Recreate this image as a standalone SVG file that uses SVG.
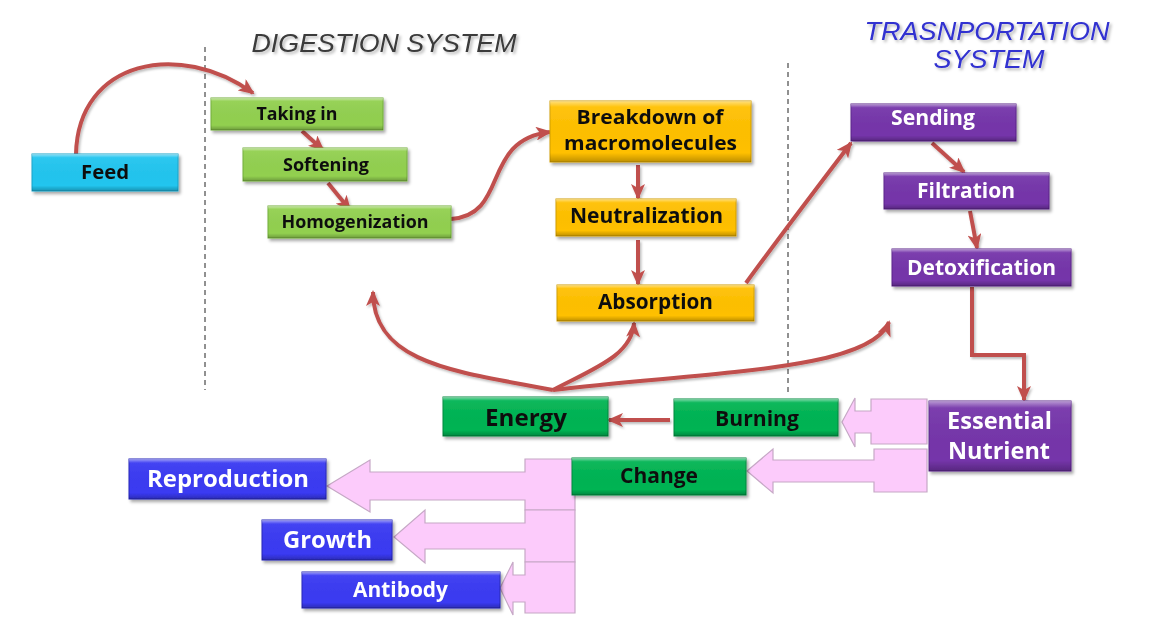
<svg xmlns="http://www.w3.org/2000/svg" width="1149" height="630" viewBox="0 0 1149 630">
<defs>
<style>
.t{font-family:"Open Sans","Noto Sans","DejaVu Sans",sans-serif;font-weight:bold;text-anchor:middle}
.k{fill:#111}
.w{fill:#fff}
.title{font-family:"Liberation Sans",Arial,sans-serif;font-style:italic;text-anchor:middle}
.box{stroke-width:1}
.cyan{fill:#22c5ef;stroke:#1aa3c9}
.lg{fill:#92d050;stroke:#72ad3a}
.yl{fill:#ffc000;stroke:#d19e00}
.pu{fill:#7535aa;stroke:#5b2489}
.dg{fill:#00b453;stroke:#00893f}
.bl{fill:#3a3af2;stroke:#2626b8}
.bev{fill:url(#bevel);stroke:none}
.con{fill:none;stroke:#c0504d;stroke-width:4;marker-end:url(#ah)}
.pink{fill:#fccbfb;stroke:#c6a8c6;stroke-width:1.2}
.dash{stroke:#222;stroke-width:1;stroke-dasharray:5,4}
</style>
<linearGradient id="bevel" x1="0" y1="0" x2="0" y2="1">
<stop offset="0" stop-color="#fff" stop-opacity="0.5"/>
<stop offset="0.1" stop-color="#fff" stop-opacity="0.05"/>
<stop offset="0.85" stop-color="#000" stop-opacity="0"/>
<stop offset="1" stop-color="#000" stop-opacity="0.25"/>
</linearGradient>
<filter id="sh" x="-10%" y="-20%" width="130%" height="150%">
<feDropShadow dx="2" dy="2.5" stdDeviation="1.5" flood-color="#000" flood-opacity="0.35"/>
</filter>
<filter id="tsh" x="-10%" y="-30%" width="130%" height="170%">
<feDropShadow dx="2" dy="2" stdDeviation="1.5" flood-color="#000" flood-opacity="0.3"/>
</filter>
<filter id="csh" x="-10%" y="-10%" width="130%" height="130%">
<feDropShadow dx="1.5" dy="2" stdDeviation="1" flood-color="#000" flood-opacity="0.25"/>
</filter>
<marker id="ah" markerUnits="userSpaceOnUse" markerWidth="16" markerHeight="14" viewBox="0 0 16 14" refX="14" refY="7" orient="auto">
<path d="M0,0 L16,7 L0,14 L4,7 Z" fill="#c0504d"/>
</marker>
</defs>
<rect width="1149" height="630" fill="#fff"/>

<g id="titles">
<text class="title" x="384" y="52" font-size="26" fill="#3a3a3a" filter="url(#tsh)" textLength="265" lengthAdjust="spacingAndGlyphs">DIGESTION SYSTEM</text>
<text class="title" x="987" y="40" font-size="26.5" fill="#3030d0" filter="url(#tsh)" textLength="245" lengthAdjust="spacingAndGlyphs">TRASNPORTATION</text>
<text class="title" x="989" y="68" font-size="26.5" fill="#3030d0" filter="url(#tsh)" textLength="111" lengthAdjust="spacingAndGlyphs">SYSTEM</text>
</g>

<g id="dividers">
<line class="dash" x1="205" y1="47" x2="205" y2="390"/>
<line class="dash" x1="788" y1="63" x2="788" y2="393"/>
</g>

<g id="pink-arrows">
<path class="pink" d="M842,422 L855,398 L855,411 L871,411 L871,399 L927,399 L927,444 L871,444 L871,433 L855,433 L855,447 Z"/>
<path class="pink" d="M747,471 L773,449 L773,460 L874,460 L874,449 L927,449 L927,492 L874,492 L874,482 L773,482 L773,493 Z"/>
<path class="pink" d="M327,486 L370,460 L370,472 L525,472 L525,459 L575,459 L575,510 L525,510 L525,500 L370,500 L370,512 Z"/>
<path class="pink" d="M394,537 L425,510 L425,523 L525,523 L525,510 L575,510 L575,562 L525,562 L525,549 L425,549 L425,563 Z"/>
<path class="pink" d="M500,588 L513,562 L513,575 L525,575 L525,562 L575,562 L575,613 L525,613 L525,602 L513,602 L513,615 Z"/>
</g>

<g id="connectors" filter="url(#csh)">
<path class="con" d="M76,154 C 78,60 180,40 253,93"/>
<path class="con" d="M302,131 L323,150"/>
<path class="con" d="M328,183 L350,210"/>
<path class="con" d="M451,219 C 510,215 480,140 550,132"/>
<path class="con" d="M638,165 L638,198"/>
<path class="con" d="M638,240 L638,284"/>
<path class="con" d="M746,283 C 770,250 800,210 851,143"/>
<path class="con" d="M932,143 L964,172"/>
<path class="con" d="M970,211 L977,248"/>
<path class="con" d="M972,287 L972,355 L1024,355 L1024,400"/>
<path class="con" d="M670,420 L609,420"/>
<path class="con" d="M553,390 C 460,372 373,365 373,292"/>
<path class="con" d="M553,390 C 595,368 632,355 634,323"/>
<path class="con" d="M553,390 C 700,372 870,372 889,322"/>
</g>

<g id="feed" filter="url(#sh)"><rect class="box cyan" x="32" y="154" width="146" height="37"/><rect class="bev" x="32" y="154" width="146" height="37"/><text class="t k" x="105" y="179" font-size="20" textLength="48" lengthAdjust="spacingAndGlyphs">Feed</text></g>
<g id="taking-in" filter="url(#sh)"><rect class="box lg" x="211" y="98" width="172" height="32"/><rect class="bev" x="211" y="98" width="172" height="32"/><text class="t k" x="297" y="120" font-size="18" textLength="81" lengthAdjust="spacingAndGlyphs">Taking in</text></g>
<g id="softening" filter="url(#sh)"><rect class="box lg" x="243" y="148" width="164" height="33"/><rect class="bev" x="243" y="148" width="164" height="33"/><text class="t k" x="326" y="171" font-size="18" textLength="86" lengthAdjust="spacingAndGlyphs">Softening</text></g>
<g id="homogenization" filter="url(#sh)"><rect class="box lg" x="268" y="206" width="183" height="32"/><rect class="bev" x="268" y="206" width="183" height="32"/><text class="t k" x="355" y="228" font-size="18" textLength="147" lengthAdjust="spacingAndGlyphs">Homogenization</text></g>
<g id="breakdown" filter="url(#sh)"><rect class="box yl" x="550" y="101" width="201" height="61"/><rect class="bev" x="550" y="101" width="201" height="61"/><text class="t k" x="650" y="124" font-size="19" textLength="147" lengthAdjust="spacingAndGlyphs">Breakdown of</text><text class="t k" x="650.5" y="150" font-size="19" textLength="173" lengthAdjust="spacingAndGlyphs">macromolecules</text></g>
<g id="neutralization" filter="url(#sh)"><rect class="box yl" x="556" y="199" width="180" height="37"/><rect class="bev" x="556" y="199" width="180" height="37"/><text class="t k" x="646.5" y="223" font-size="21" textLength="153" lengthAdjust="spacingAndGlyphs">Neutralization</text></g>
<g id="absorption" filter="url(#sh)"><rect class="box yl" x="557" y="285" width="197" height="36"/><rect class="bev" x="557" y="285" width="197" height="36"/><text class="t k" x="655.5" y="309" font-size="21" textLength="115" lengthAdjust="spacingAndGlyphs">Absorption</text></g>
<g id="sending" filter="url(#sh)"><rect class="box pu" x="851" y="104" width="165" height="37"/><rect class="bev" x="851" y="104" width="165" height="37"/><text class="t w" x="933" y="125" font-size="21" textLength="84" lengthAdjust="spacingAndGlyphs">Sending</text></g>
<g id="filtration" filter="url(#sh)"><rect class="box pu" x="884" y="173" width="165" height="36"/><rect class="bev" x="884" y="173" width="165" height="36"/><text class="t w" x="966" y="198" font-size="21" textLength="98" lengthAdjust="spacingAndGlyphs">Filtration</text></g>
<g id="detoxification" filter="url(#sh)"><rect class="box pu" x="892" y="249" width="179" height="37"/><rect class="bev" x="892" y="249" width="179" height="37"/><text class="t w" x="981.5" y="275" font-size="21" textLength="149" lengthAdjust="spacingAndGlyphs">Detoxification</text></g>
<g id="essential-nutrient" filter="url(#sh)"><rect class="box pu" x="929" y="401" width="142" height="70"/><rect class="bev" x="929" y="401" width="142" height="70"/><text class="t w" x="999.5" y="429" font-size="22.5" textLength="105" lengthAdjust="spacingAndGlyphs">Essential</text><text class="t w" x="999" y="459" font-size="22.5" textLength="102" lengthAdjust="spacingAndGlyphs">Nutrient</text></g>
<g id="energy" filter="url(#sh)"><rect class="box dg" x="443" y="397" width="165" height="39"/><rect class="bev" x="443" y="397" width="165" height="39"/><text class="t k" x="526" y="426" font-size="24" textLength="82" lengthAdjust="spacingAndGlyphs">Energy</text></g>
<g id="burning" filter="url(#sh)"><rect class="box dg" x="674" y="399" width="164" height="37"/><rect class="bev" x="674" y="399" width="164" height="37"/><text class="t k" x="757" y="426" font-size="21" textLength="84" lengthAdjust="spacingAndGlyphs">Burning</text></g>
<g id="change" filter="url(#sh)"><rect class="box dg" x="572" y="458" width="174" height="37"/><rect class="bev" x="572" y="458" width="174" height="37"/><text class="t k" x="659" y="483" font-size="21" textLength="78" lengthAdjust="spacingAndGlyphs">Change</text></g>
<g id="reproduction" filter="url(#sh)"><rect class="box bl" x="129" y="459" width="197" height="40"/><rect class="bev" x="129" y="459" width="197" height="40"/><text class="t w" x="228" y="487" font-size="23.5" textLength="162" lengthAdjust="spacingAndGlyphs">Reproduction</text></g>
<g id="growth" filter="url(#sh)"><rect class="box bl" x="262" y="520" width="130" height="40"/><rect class="bev" x="262" y="520" width="130" height="40"/><text class="t w" x="327.5" y="548" font-size="23.5" textLength="89" lengthAdjust="spacingAndGlyphs">Growth</text></g>
<g id="antibody" filter="url(#sh)"><rect class="box bl" x="302" y="572" width="198" height="36"/><rect class="bev" x="302" y="572" width="198" height="36"/><text class="t w" x="400.5" y="597" font-size="21" textLength="95" lengthAdjust="spacingAndGlyphs">Antibody</text></g>
</svg>
